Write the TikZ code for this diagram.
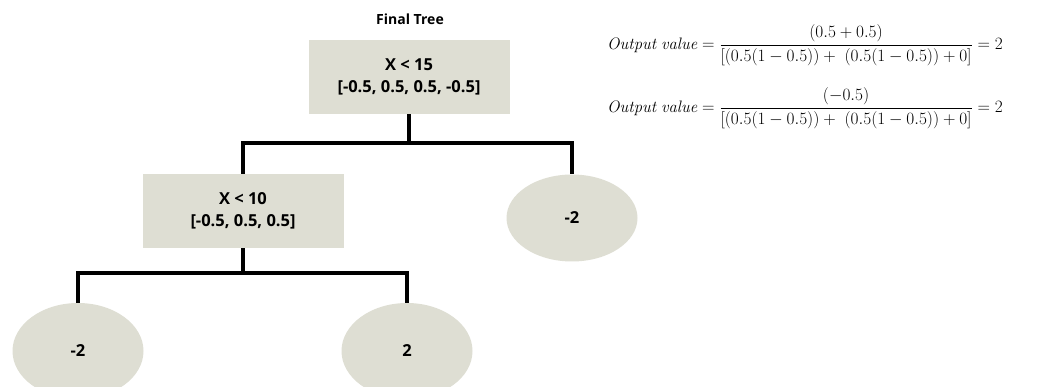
\documentclass[tikz,border=0pt]{standalone}
\usepackage{fontspec}
\usepackage{amsmath}
\usetikzlibrary{shapes.geometric}
\newfontfamily\labelfont{Open Sans}
\definecolor{nodefill}{RGB}{222,222,211}
\begin{document}
\begin{tikzpicture}[x=1pt,y=-1pt,
  splitbox/.style={rectangle, fill=nodefill, minimum width=201pt, minimum height=74pt,
    inner sep=0pt, align=center, font=\labelfont\bfseries\fontsize{16.5}{22}\selectfont},
  leafnode/.style={ellipse, fill=nodefill, minimum width=131pt, inner sep=0pt,
    font=\labelfont\bfseries\fontsize{16.5}{19}\selectfont},
  branch/.style={line width=3.2pt, line cap=butt, line join=miter},
  formula/.style={anchor=west, inner sep=0pt, font=\fontsize{16.6}{19}\selectfont}]
\useasboundingbox (0,0) rectangle (1060,387);

% title
\node[font=\labelfont\bfseries\fontsize{14}{16}\selectfont] (title) at (410,19) {Final Tree};

% split nodes
\node[splitbox] (root) at (409,77) {X < 15\\{}[-0.5, 0.5, 0.5, -0.5]};
\node[splitbox] (left) at (243,211) {X < 10\\{}[-0.5, 0.5, 0.5]};

% leaves
\node[leafnode, minimum height=87pt] (leafR) at (572,218) {-2};
\node[leafnode, minimum height=96pt] (leafL) at (78,351) {-2};
\node[leafnode, minimum height=96pt] (leafM) at (407,351) {2};

% branch junctions
\coordinate (j1) at (409,143);
\coordinate (j2) at (243,273);

\draw[branch] (root.south) -- (j1);
\draw[branch] (j1) -| (left.north);
\draw[branch] (j1) -| (leafR.north);
\draw[branch] (left.south) -- (j2);
\draw[branch] (j2) -| (leafL.north);
\draw[branch] (j2) -| (leafM.north);

% output value formulas
\node[formula] (eq1) at (607,45)
  {$\mathit{Output\ value} = \dfrac{(0.5+0.5)}{[(0.5(1-0.5)) +\ (0.5(1-0.5)) + 0]} = 2$};
\node[formula] (eq2) at (607,108)
  {$\mathit{Output\ value} = \dfrac{(-0.5)}{[(0.5(1-0.5)) +\ (0.5(1-0.5)) + 0]} = 2$};
\end{tikzpicture}
\end{document}
